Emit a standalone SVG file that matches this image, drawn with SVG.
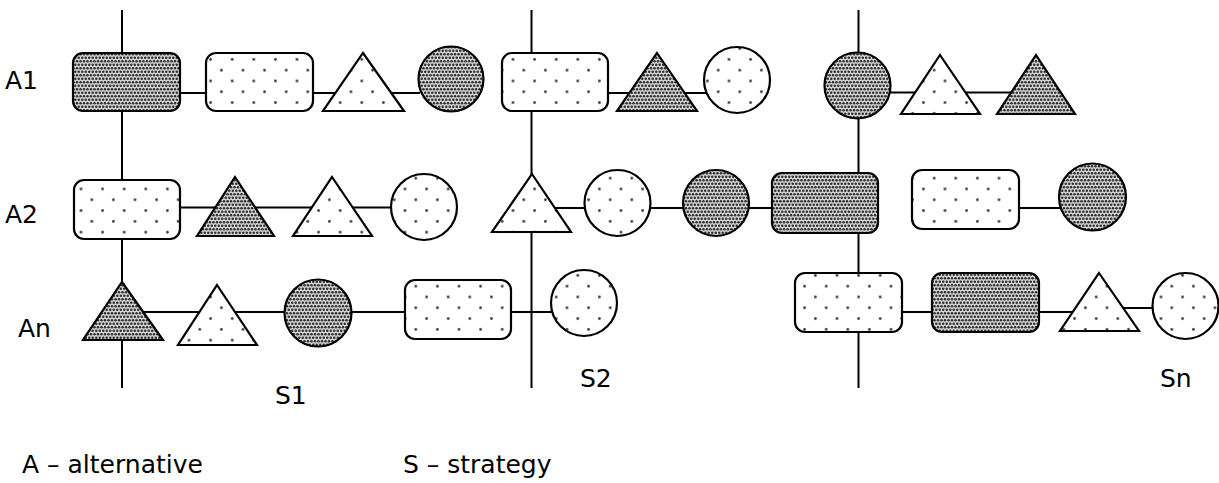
<svg xmlns="http://www.w3.org/2000/svg" width="1219" height="483" viewBox="0 0 1219 483">
  <style>
    .line { stroke: #000; stroke-width: 2; fill: none; }
    .shape { stroke: #000; stroke-width: 2.2; stroke-linejoin: miter; }
    .dense { fill: url(#dense); }
    .sparse { fill: url(#sparse); }
    .label { font-family: "DejaVu Sans", Verdana, sans-serif; font-size: 25px; fill: #000; }
  </style>
  <defs>
    <!-- fine halftone screen -->
    <pattern id="dense" patternUnits="userSpaceOnUse" width="7" height="7">
      <rect width="7" height="7" fill="#d2d2d2"/>
      <circle cx="1.75" cy="1.75" r="1.25" fill="#2e2e2e"/>
      <circle cx="5.25" cy="1.75" r="1.25" fill="#2e2e2e"/>
      <circle cx="0" cy="5.25" r="1.25" fill="#2e2e2e"/>
      <circle cx="3.5" cy="5.25" r="1.25" fill="#2e2e2e"/>
      <circle cx="7" cy="5.25" r="1.25" fill="#2e2e2e"/>
    </pattern>
    <!-- sparse dotted fill -->
    <pattern id="sparse" patternUnits="userSpaceOnUse" width="21.6" height="21.6">
      <rect width="21.6" height="21.6" fill="#fff"/>
      <circle cx="5.4" cy="5.4" r="1.4" fill="#3c3c3c"/>
      <circle cx="16.2" cy="16.2" r="1.4" fill="#3c3c3c"/>
    </pattern>
  </defs>
  <rect width="1219" height="483" fill="#fff"/>

  <g id="connectors">
    <!-- strategy axes -->
    <line class="line" x1="122" y1="10" x2="122" y2="388"/>
    <line class="line" x1="531.5" y1="10" x2="531.5" y2="388"/>
    <line class="line" x1="858.5" y1="10" x2="858.5" y2="388"/>
    <!-- alternative A1 -->
    <line class="line" x1="180" y1="93" x2="420" y2="93"/>
    <line class="line" x1="608" y1="93" x2="706" y2="93"/>
    <line class="line" x1="890" y1="92.5" x2="1016" y2="92.5"/>
    <!-- alternative A2 -->
    <line class="line" x1="180" y1="207.5" x2="392" y2="207.5"/>
    <line class="line" x1="550" y1="208" x2="772" y2="208"/>
    <line class="line" x1="1019" y1="208" x2="1060" y2="208"/>
    <!-- alternative An -->
    <line class="line" x1="140" y1="312" x2="553" y2="312"/>
    <line class="line" x1="902" y1="312" x2="1080" y2="312"/>
    <line class="line" x1="1120" y1="308" x2="1154" y2="308"/>
  </g>

  <!-- A1 -->
  <g id="a1-s1-rect"><rect class="shape dense" x="73" y="53" width="107" height="58" rx="10"/></g>
  <g id="a1-s1-rect2"><rect class="shape sparse" x="206" y="53" width="107" height="58" rx="10"/></g>
  <g id="a1-s1-tri"><polygon class="shape sparse" points="363,53 404,111 323,111"/></g>
  <g id="a1-s1-circle"><circle class="shape dense" cx="451" cy="79" r="32.5"/></g>
  <g id="a1-s2-rect"><rect class="shape sparse" x="502" y="53" width="106" height="58" rx="10"/></g>
  <g id="a1-s2-tri"><polygon class="shape dense" points="657,53 697,111 617,111"/></g>
  <g id="a1-s2-circle"><circle class="shape sparse" cx="737" cy="80" r="33"/></g>
  <g id="a1-sn-circle"><circle class="shape dense" cx="857.5" cy="85.5" r="33"/></g>
  <g id="a1-sn-tri"><polygon class="shape sparse" points="940,55 980,114 901,114"/></g>
  <g id="a1-sn-tri2"><polygon class="shape dense" points="1036,55 1075,114 997,114"/></g>

  <!-- A2 -->
  <g id="a2-s1-rect"><rect class="shape sparse" x="74" y="180" width="106" height="59" rx="10"/></g>
  <g id="a2-s1-tri"><polygon class="shape dense" points="235,177 274,236 197,236"/></g>
  <g id="a2-s1-tri2"><polygon class="shape sparse" points="332,177 372,236 293,236"/></g>
  <g id="a2-s1-circle"><circle class="shape sparse" cx="424" cy="207" r="33"/></g>
  <g id="a2-s2-tri"><polygon class="shape sparse" points="532,174 571,232 492,232"/></g>
  <g id="a2-s2-circle"><circle class="shape sparse" cx="617.5" cy="203" r="33"/></g>
  <g id="a2-s2-circle2"><circle class="shape dense" cx="716" cy="203" r="33"/></g>
  <g id="a2-s2-rect"><rect class="shape dense" x="772" y="173" width="106" height="60" rx="10"/></g>
  <g id="a2-sn-rect"><rect class="shape sparse" x="912" y="170" width="107" height="59" rx="10"/></g>
  <g id="a2-sn-circle"><circle class="shape dense" cx="1092.5" cy="197" r="33.5"/></g>

  <!-- An -->
  <g id="an-s1-tri"><polygon class="shape dense" points="122,282 163,340 83,340"/></g>
  <g id="an-s1-tri2"><polygon class="shape sparse" points="217,285 257,345 178,345"/></g>
  <g id="an-s1-circle"><circle class="shape dense" cx="318" cy="313" r="33.5"/></g>
  <g id="an-s1-rect"><rect class="shape sparse" x="405" y="280" width="106" height="59" rx="10"/></g>
  <g id="an-s1-circle2"><circle class="shape sparse" cx="584" cy="303" r="33"/></g>
  <g id="an-sn-rect"><rect class="shape sparse" x="795" y="273" width="107" height="59" rx="10"/></g>
  <g id="an-sn-rect2"><rect class="shape dense" x="932" y="273" width="107" height="59" rx="10"/></g>
  <g id="an-sn-tri"><polygon class="shape sparse" points="1099,273 1139,331 1060,331"/></g>
  <g id="an-sn-circle"><circle class="shape sparse" cx="1185.5" cy="306" r="33"/></g>

  <!-- labels -->
  <g id="labels">
    <text class="label" x="5" y="89">A1</text>
    <text class="label" x="5" y="223">A2</text>
    <text class="label" x="18" y="337">An</text>
    <text class="label" x="275" y="404">S1</text>
    <text class="label" x="580" y="387">S2</text>
    <text class="label" x="1160" y="387">Sn</text>
    <text class="label" x="22" y="473">A – alternative</text>
    <text class="label" x="403" y="473">S – strategy</text>
  </g>
</svg>
